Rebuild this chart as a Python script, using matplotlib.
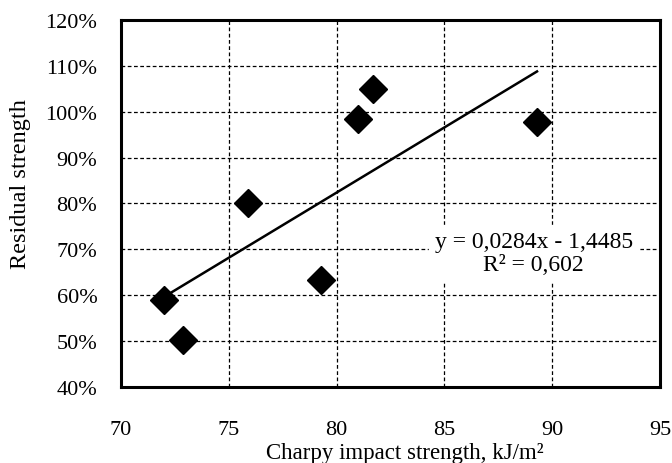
import matplotlib.pyplot as plt
import numpy as np
from matplotlib.ticker import FuncFormatter

# data
charpy = [72.0, 72.9, 75.9, 79.3, 81.0, 81.7, 89.3]
residual = [0.59, 0.502, 0.801, 0.632, 0.984, 1.049, 0.978]

# linear trend as printed on the chart
slope = 0.0284
intercept = -1.4485

plt.rcParams['font.family'] = ['Liberation Serif', 'DejaVu Serif']

fig = plt.figure(figsize=(6.72, 4.64), dpi=100)
ax = fig.add_axes([0.180, 0.164, 0.802, 0.791])

xfit = np.array([min(charpy), max(charpy)])
ax.plot(xfit, slope * xfit + intercept, color='black', lw=1.8, zorder=3)
ax.plot(charpy, residual, 'D', color='black', markersize=14, zorder=4)

ax.set_xlim(70, 95)
ax.set_ylim(0.4, 1.2)
ax.set_xticks([70, 75, 80, 85, 90, 95])
ax.set_yticks(np.arange(0.4, 1.21, 0.1))
ax.yaxis.set_major_formatter(FuncFormatter(lambda v, p: '%d%%' % round(v * 100)))

ax.grid(True, color='black', linestyle=(0, (3, 2)), linewidth=0.9)
ax.set_axisbelow(True)
for s in ax.spines.values():
    s.set_linewidth(2.2)
ax.tick_params(length=0, labelsize=16)
ax.tick_params(axis='y', pad=17)
ax.tick_params(axis='x', pad=24)

ax.set_xlabel('Charpy impact strength, kJ/m²', fontsize=16.5)
ax.xaxis.label.set_va('center')
ax.xaxis.set_label_coords(0.527, -0.180)
ax.set_ylabel('Residual strength', fontsize=17.5)
ax.yaxis.label.set_va('center')
ax.yaxis.set_label_coords(-0.186, 0.556)

ax.text(89.15, 0.692, 'y = 0,0284x - 1,4485\nR² = 0,602', ha='center', va='center',
        fontsize=17, linespacing=1.15, backgroundcolor='white', zorder=5)

fig.savefig('out.png', dpi=100)
